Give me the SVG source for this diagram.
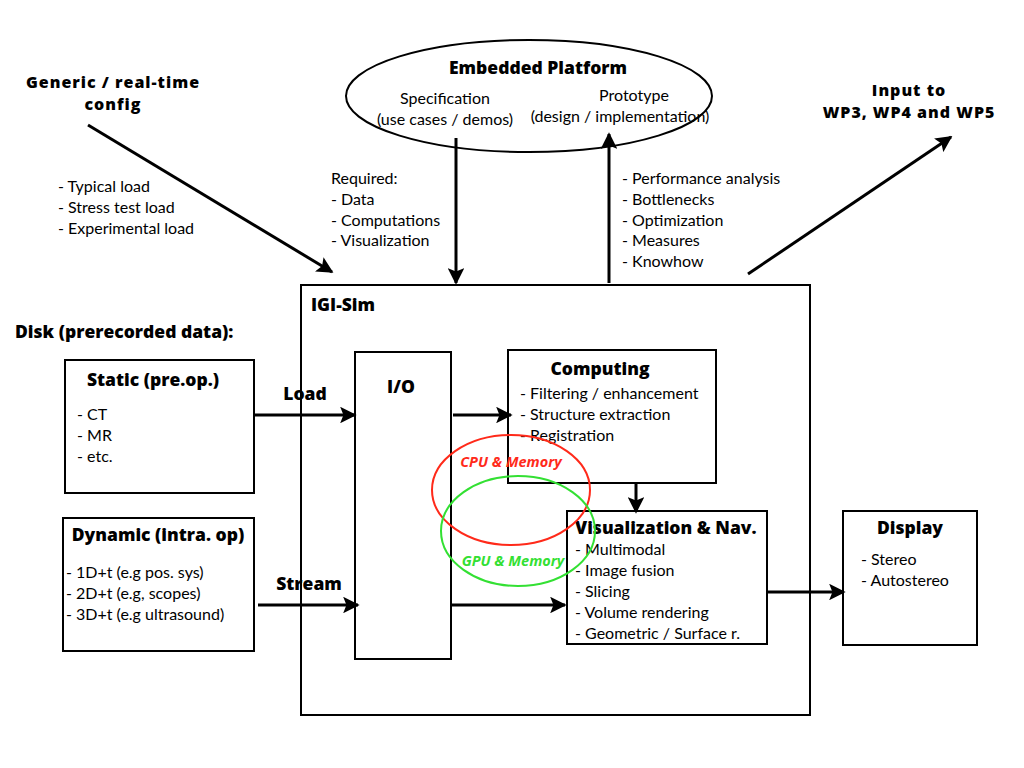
<svg xmlns="http://www.w3.org/2000/svg" width="1024" height="768" viewBox="0 0 1024 768">
<style>
text{font-family:Lato,"Noto Sans",sans-serif;fill:#000}
.t{font-size:16px}
.b{font-family:"Open Sans","Noto Sans",sans-serif;font-size:17.5px;font-weight:800}
.b2{font-family:"Open Sans","Noto Sans",sans-serif;font-size:16px;font-weight:800;letter-spacing:1px}
.box{fill:none;stroke:#000;stroke-width:2}
.c{stroke:#000;stroke-width:3;fill:none;marker-end:url(#ah)}
.m{font-family:"Open Sans","Noto Sans",sans-serif;font-size:14.5px;font-weight:bold;font-style:italic}
</style>
<defs>
<marker id="ah" viewBox="0 0 10 10" refX="9" refY="5" markerWidth="5.5" markerHeight="5.5" orient="auto" markerUnits="strokeWidth">
<path d="M0,0 L10,5 L0,10 L2,5 Z" fill="#000"/>
</marker>
</defs>
<rect width="1024" height="768" fill="#fff"/>

<g id="config">
<text class="b2" x="113" y="88" text-anchor="middle">Generic / real-time</text>
<text class="b2" x="113" y="110" text-anchor="middle">config</text>
<text class="t" x="58" y="192">- Typical load</text>
<text class="t" x="58" y="213">- Stress test load</text>
<text class="t" x="58" y="234">- Experimental load</text>
</g>

<g id="platform">
<ellipse cx="529" cy="96" rx="183" ry="56" class="box"/>
<text class="b" x="538" y="74" text-anchor="middle">Embedded Platform</text>
<text class="t" x="445" y="104" text-anchor="middle">Specification</text>
<text class="t" x="445" y="125" text-anchor="middle">(use cases / demos)</text>
<text class="t" x="634" y="101" text-anchor="middle">Prototype</text>
<text class="t" x="620" y="122" text-anchor="middle">(design / implementation)</text>
</g>

<g id="required">
<text class="t" x="331" y="184">Required:</text>
<text class="t" x="331" y="205">- Data</text>
<text class="t" x="331" y="226">- Computations</text>
<text class="t" x="331" y="246">- Visualization</text>
</g>

<g id="feedback">
<text class="t" x="622" y="184">- Performance analysis</text>
<text class="t" x="622" y="205">- Bottlenecks</text>
<text class="t" x="622" y="226">- Optimization</text>
<text class="t" x="622" y="246">- Measures</text>
<text class="t" x="622" y="267">- Knowhow</text>
</g>

<g id="input">
<text class="b2" x="909" y="96" text-anchor="middle">Input to</text>
<text class="b2" x="909" y="118" text-anchor="middle">WP3, WP4 and WP5</text>
</g>

<g id="igisim">
<rect x="301" y="285" width="509" height="430" class="box"/>
<text class="b" x="311" y="311">IGI-Sim</text>
</g>

<text class="b" x="15" y="338">Disk (prerecorded data):</text>

<g id="static">
<rect x="65" y="360" width="189" height="133" class="box"/>
<text class="b" x="153" y="386" text-anchor="middle">Static (pre.op.)</text>
<text class="t" x="77" y="420">- CT</text>
<text class="t" x="77" y="441">- MR</text>
<text class="t" x="77" y="462">- etc.</text>
</g>

<g id="dynamic">
<rect x="63" y="518" width="191" height="133" class="box"/>
<text class="b" x="158" y="541" text-anchor="middle">Dynamic (intra. op)</text>
<text class="t" x="66" y="578">- 1D+t (e.g pos. sys)</text>
<text class="t" x="66" y="599">- 2D+t (e.g, scopes)</text>
<text class="t" x="66" y="620">- 3D+t (e.g ultrasound)</text>
</g>

<g id="io">
<rect x="355" y="352" width="96" height="307" class="box"/>
<text class="b" x="401" y="393" text-anchor="middle">I/O</text>
</g>

<g id="computing">
<rect x="508" y="350" width="208" height="133" class="box"/>
<text class="b" x="600" y="375" text-anchor="middle">Computing</text>
<text class="t" x="520" y="399">- Filtering / enhancement</text>
<text class="t" x="520" y="420">- Structure extraction</text>
<text class="t" x="520" y="441">- Registration</text>
</g>

<g id="vis">
<rect x="567" y="511" width="200" height="133" class="box"/>
<text class="b" x="575" y="534">Visualization &amp; Nav.</text>
<text class="t" x="575" y="555">- Multimodal</text>
<text class="t" x="575" y="576">- Image fusion</text>
<text class="t" x="575" y="597">- Slicing</text>
<text class="t" x="575" y="618">- Volume rendering</text>
<text class="t" x="575" y="639">- Geometric / Surface r.</text>
</g>

<g id="display">
<rect x="843" y="511" width="134" height="134" class="box"/>
<text class="b" x="910" y="534" text-anchor="middle">Display</text>
<text class="t" x="861" y="565">- Stereo</text>
<text class="t" x="861" y="586">- Autostereo</text>
</g>

<g id="cpu">
<ellipse cx="511" cy="490" rx="79" ry="55" fill="none" stroke="#ff2a1a" stroke-width="2"/>
<text class="m" x="511" y="467" text-anchor="middle" style="fill:#ff2a1a">CPU &amp; Memory</text>
</g>
<g id="gpu">
<ellipse cx="518" cy="531" rx="77" ry="55" fill="none" stroke="#33e033" stroke-width="2"/>
<text class="m" x="513" y="566" text-anchor="middle" style="fill:#33e033">GPU &amp; Memory</text>
</g>

<g id="connectors">
<line class="c" x1="88" y1="125" x2="332" y2="272"/>
<line class="c" x1="456" y1="138" x2="456" y2="283"/>
<line class="c" x1="609" y1="283" x2="609" y2="134"/>
<line class="c" x1="748" y1="274" x2="951" y2="137"/>
<line class="c" x1="254" y1="415" x2="355" y2="415"/>
<text class="b" x="305" y="400" text-anchor="middle">Load</text>
<line class="c" x1="258" y1="605" x2="358" y2="605"/>
<text class="b" x="309" y="590" text-anchor="middle">Stream</text>
<line class="c" x1="453" y1="415" x2="511" y2="415"/>
<line class="c" x1="636" y1="483" x2="636" y2="512"/>
<line class="c" x1="451" y1="605" x2="565" y2="605"/>
<line class="c" x1="767" y1="592" x2="844" y2="592"/>
</g>
</svg>
